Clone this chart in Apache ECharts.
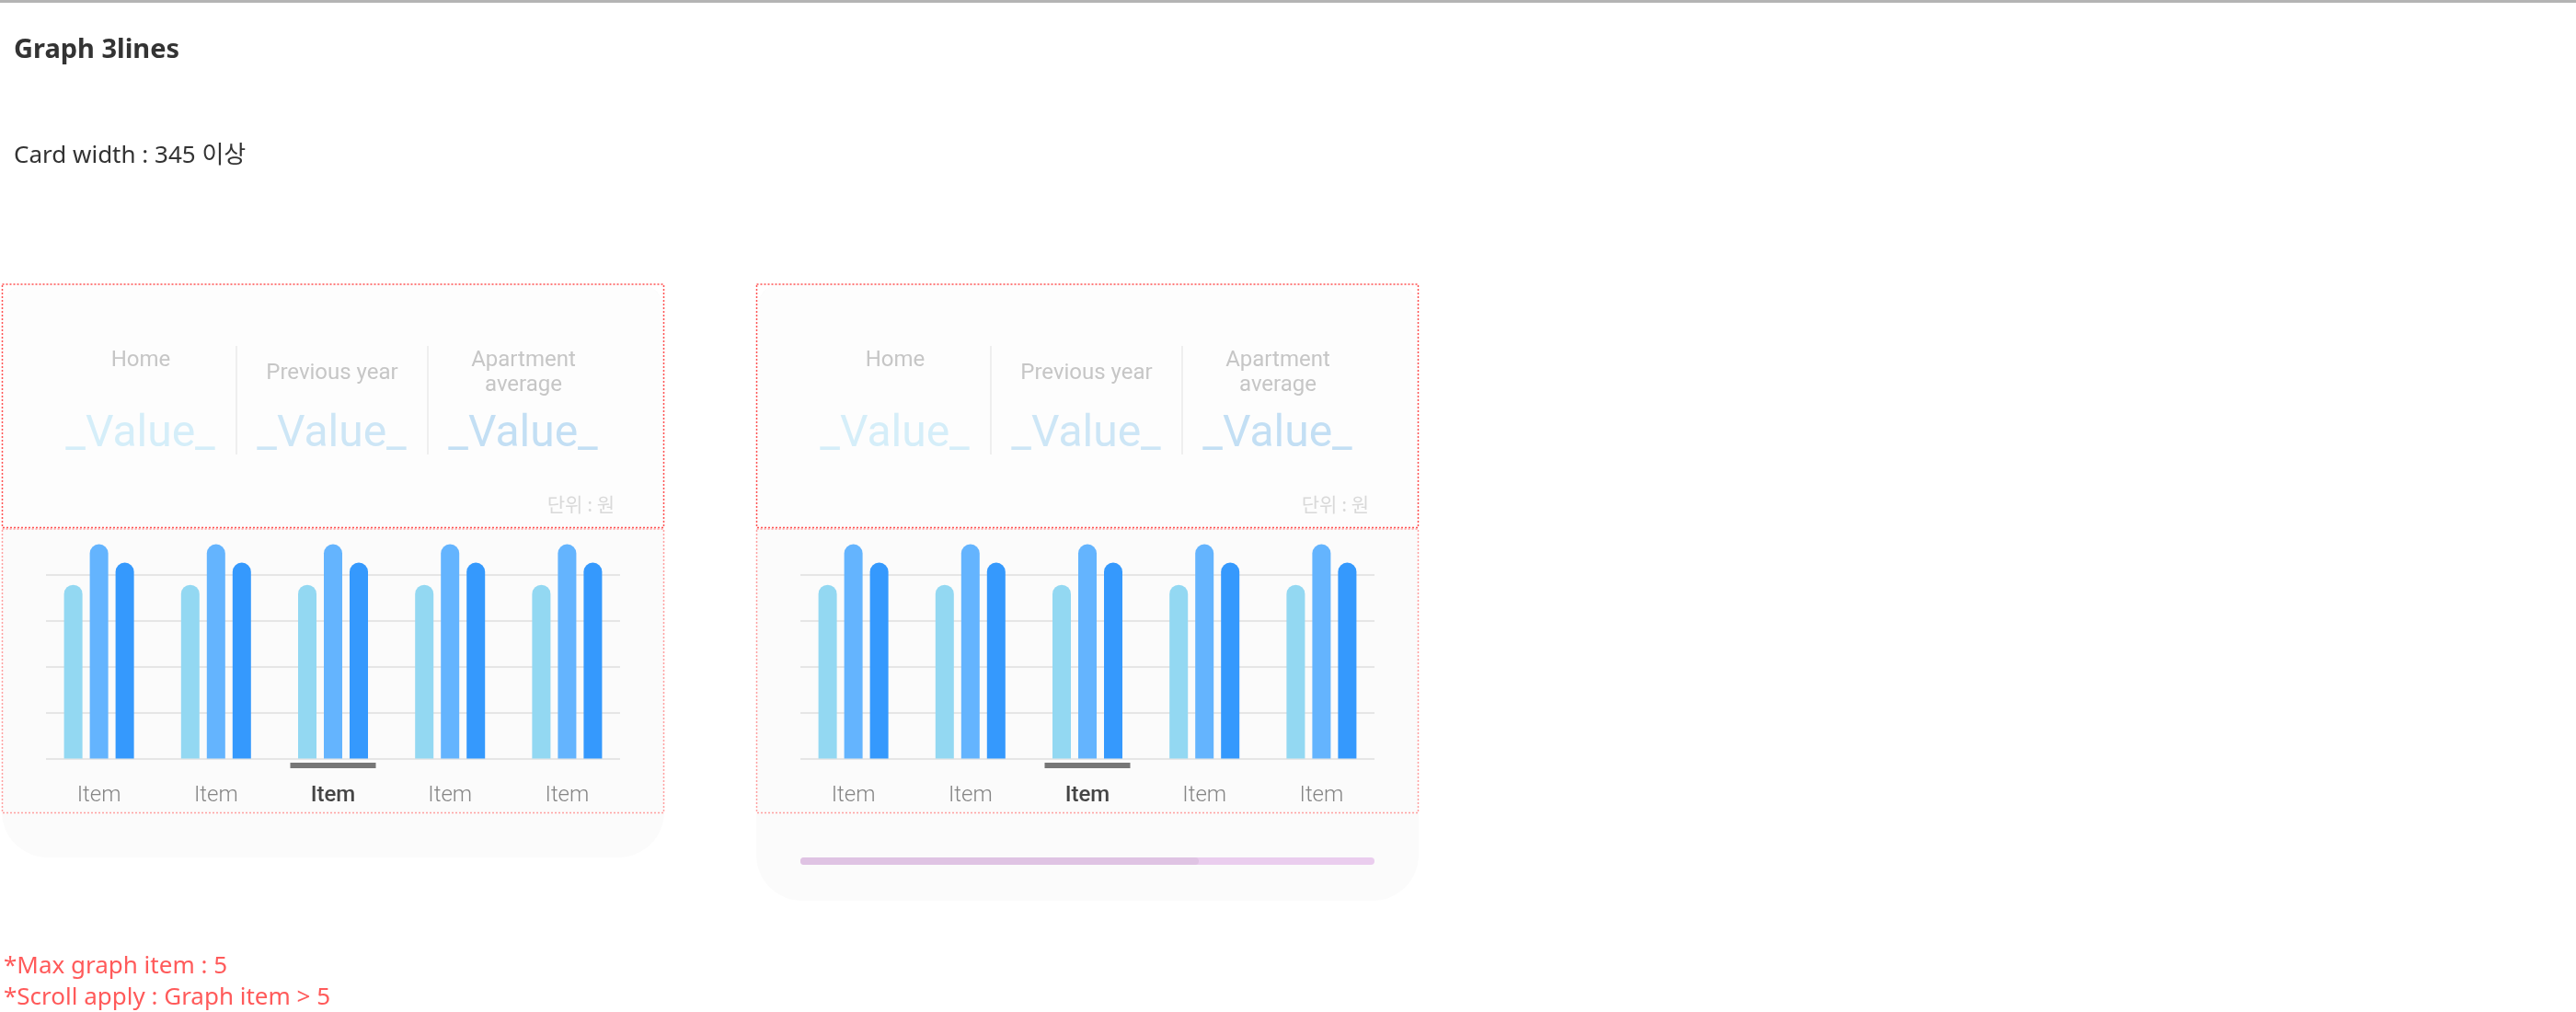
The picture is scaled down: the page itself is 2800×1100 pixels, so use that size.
<!DOCTYPE html>
<html><head><meta charset="utf-8">
<script src="https://cdn.jsdelivr.net/npm/echarts@6/dist/echarts.min.js"></script>
<style>html,body{margin:0;padding:0;background:#fff}#c{width:2800px;height:1100px}</style>
</head><body><div id="c"></div>
<script>
// ---------- data ----------
const categories = ['Item', 'Item', 'Item', 'Item', 'Item'];
const homeValues = [94.6, 94.6, 94.6, 94.6, 94.6];
const prevYearValues = [116.7, 116.7, 116.7, 116.7, 116.7];
const aptAverageValues = [106.7, 106.7, 106.7, 106.7, 106.7];
const selectedIndex = 2;
const yMin = 0, yMax = 120, yInterval = 25;
const headerLabels = ['Home', 'Previous year', 'Apartment\naverage'];
const headerValues = ['_Value_', '_Value_', '_Value_'];
const unitLabel = '단위 : 원';
const pageTitle = 'Graph 3lines';
const pageSubtitle = 'Card width : 345 이상';
const notes = ['*Max graph item : 5', '*Scroll apply : Graph item > 5'];

// ---------- layout / style ----------
const cardOffsets = [0, 820];
const cardBottoms = [932, 979];
const barColors = ['#93d8f2', '#64b4fe', '#3599fd'];
const valueColors = ['#d5eef9', '#cde6f6', '#c3dff4'];
const colCenters = [153, 361, 569];
const labelMid = [392.3, 406.3, 405.8];
const gridTop = 585, gridH = 239.5;

const chart = echarts.init(document.getElementById('c'), null, {renderer: 'canvas'});

const grids = [], xAxes = [], yAxes = [], series = [];
cardOffsets.forEach((off, c) => {
  grids.push({left: 44 + off, top: gridTop, width: 636, height: gridH});
  grids.push({left: 50 + off, top: gridTop, width: 624, height: gridH});
  xAxes.push({
    gridIndex: 2 * c, type: 'category',
    data: categories.map((n, i) => i === selectedIndex
      ? {value: n, textStyle: {color: '#454545', fontWeight: 500}}
      : n),
    axisLine: {show: false}, axisTick: {show: false},
    axisLabel: {margin: 28, fontSize: 24, color: '#858585', fontFamily: 'Roboto', fontWeight: 300, interval: 0}
  });
  xAxes.push({gridIndex: 2 * c + 1, type: 'category', data: categories, show: false});
  yAxes.push({gridIndex: 2 * c, type: 'value', min: yMin, max: yMax, show: false, splitLine: {show: false}});
  yAxes.push({
    gridIndex: 2 * c + 1, type: 'value', min: yMin, max: yMax, interval: yInterval,
    axisLine: {show: false}, axisTick: {show: false}, axisLabel: {show: false},
    splitLine: {show: true, showMaxLine: false, showMinLine: true, lineStyle: {color: '#e6e6e6', width: 2}}
  });
  [homeValues, prevYearValues, aptAverageValues].forEach((vals, k) => {
    series.push({
      type: 'bar', xAxisIndex: 2 * c, yAxisIndex: 2 * c, data: vals,
      barWidth: 20, barGap: '40%',
      itemStyle: {color: barColors[k], borderRadius: [10, 10, 0, 0]},
      silent: true
    });
  });
});

chart.setOption({
  animation: false,
  backgroundColor: '#ffffff',
  grid: grids, xAxis: xAxes, yAxis: yAxes, series: series
});

// ---------- graphics ----------
const g = [];
g.push({type: 'rect', shape: {x: 0, y: 0, width: 2800, height: 3}, style: {fill: '#b4b4b4'}, z: 1});
g.push({type: 'text', x: 15, y: 55, style: {text: pageTitle, font: 'bold 29px "Noto Sans"', fill: '#333', verticalAlign: 'middle'}, z: 10});
g.push({type: 'text', x: 15, y: 170, style: {text: pageSubtitle, font: '26px "Noto Sans", "Noto Sans CJK KR"', fill: '#333', verticalAlign: 'middle'}, z: 10});
notes.forEach((t, i) => {
  g.push({type: 'text', x: 4, y: 1051 + i * 34, style: {text: t, font: '26px "Noto Sans"', fill: '#ff5a5a', verticalAlign: 'middle'}, z: 10});
});

cardOffsets.forEach((off, c) => {
  const bottom = cardBottoms[c];
  g.push({type: 'rect', shape: {x: 2 + off, y: 308, width: 720, height: bottom - 308, r: [30, 30, 50, 50]}, style: {fill: '#fbfbfb'}, z: -10});
  g.push({type: 'rect', shape: {x: 2 + off, y: 308, width: 720, height: 266, r: [30, 30, 0, 0]}, style: {fill: '#fdfdfd'}, z: -9});
  [257, 465].forEach(x => g.push({type: 'rect', shape: {x: x - 1 + off, y: 376, width: 2, height: 118}, style: {fill: '#efefef'}, z: 5}));
  headerLabels.forEach((t, i) => {
    g.push({type: 'text', x: colCenters[i] + off, y: labelMid[i], style: {text: t, font: '24px Roboto', fill: '#c6c6c6', align: 'center', verticalAlign: 'middle', lineHeight: 27}, z: 10});
    g.push({type: 'text', x: colCenters[i] - 0.5 + off, y: 472.5, style: {text: headerValues[i], font: '48px Roboto', fill: valueColors[i], align: 'center', verticalAlign: 'middle'}, z: 10});
  });
  g.push({type: 'text', x: 668 + off, y: 548, style: {text: unitLabel, font: '21px "Noto Sans CJK KR"', fill: '#d9d9d9', align: 'right', verticalAlign: 'middle'}, z: 10});
  const cx = chart.convertToPixel({xAxisIndex: 2 * c}, selectedIndex);
  g.push({type: 'rect', shape: {x: cx - 46.5, y: 829, width: 93, height: 6}, style: {fill: '#777777'}, z: 10});
  g.push({type: 'rect', shape: {x: 2.5 + off, y: 309, width: 719, height: 264.5}, style: {fill: null, stroke: '#ff5252', lineWidth: 1.5, lineDash: [2, 2]}, z: 100});
  g.push({type: 'rect', shape: {x: 2.5 + off, y: 575, width: 719, height: 308.5}, style: {fill: null, stroke: '#ffa0a0', lineWidth: 1.5, lineDash: [2, 2]}, z: 100});
  if (c === 1) {
    g.push({type: 'rect', shape: {x: 50 + off, y: 932, width: 624, height: 8, r: 4}, style: {fill: '#eacdee'}, z: 10});
    g.push({type: 'rect', shape: {x: 50 + off, y: 932, width: 433, height: 8, r: 4}, style: {fill: '#dfc3e3'}, z: 11});
  }
});

chart.setOption({graphic: {elements: g}});
</script>
</body></html>
